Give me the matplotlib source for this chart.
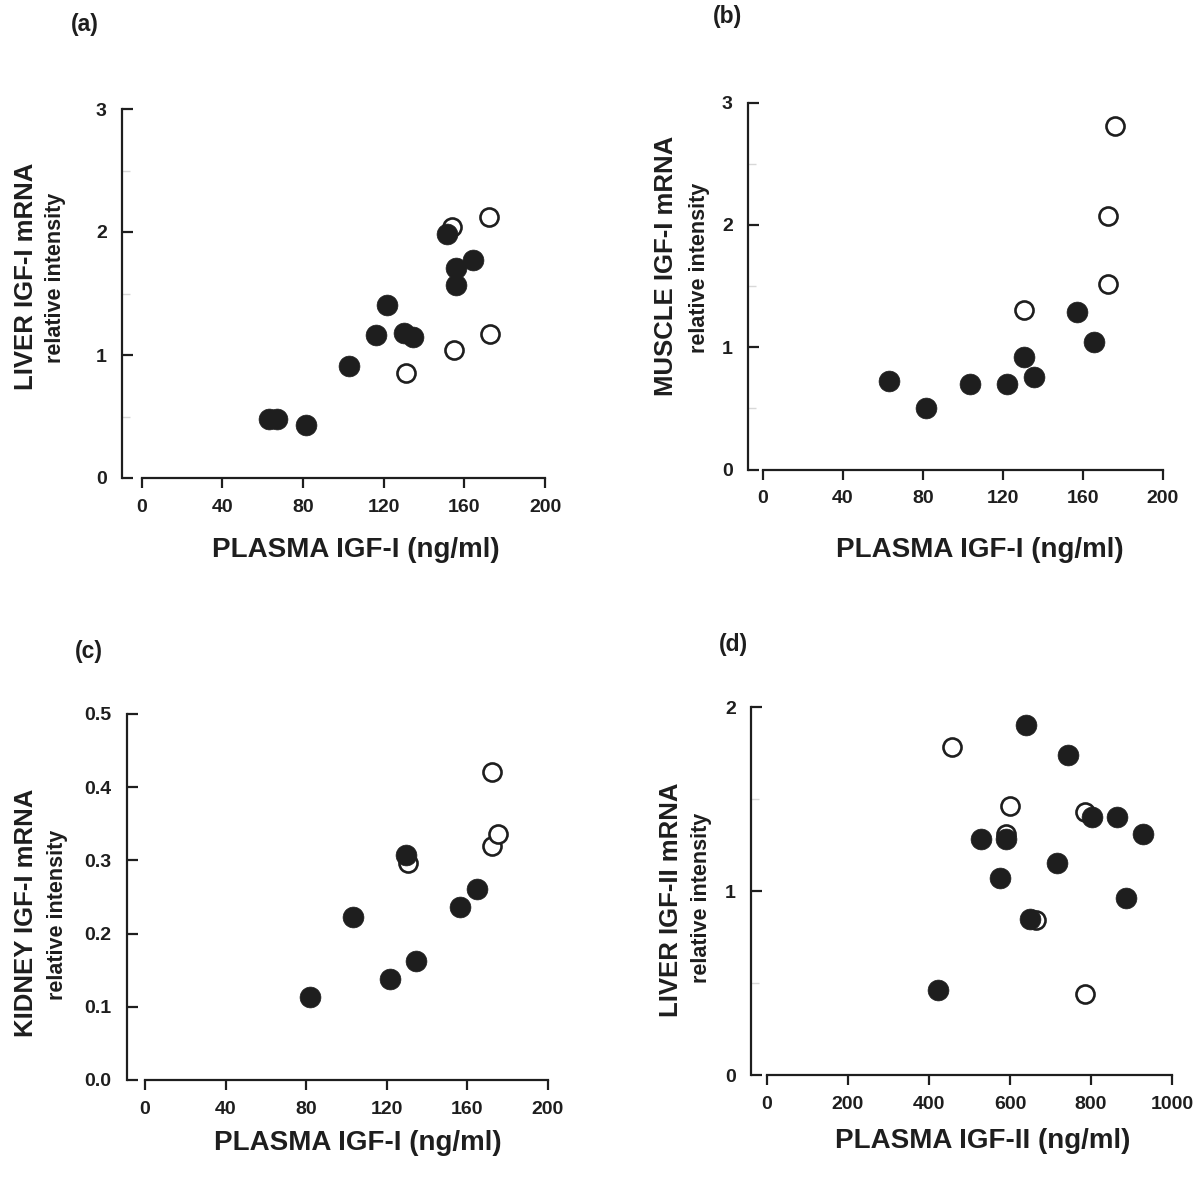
import matplotlib
matplotlib.use("Agg")
import matplotlib.pyplot as plt
from matplotlib.ticker import FixedLocator

plt.rcParams['font.family'] = ['Liberation Sans', 'DejaVu Sans']
plt.rcParams['font.weight'] = 'bold'

# ---------------- data ----------------
# (a) liver IGF-I mRNA vs plasma IGF-I
a_fill_x = [63, 67, 81.5, 103, 116, 121.5, 130, 134.5, 151.5, 156, 155.7, 164.5]
a_fill_y = [0.48, 0.48, 0.43, 0.91, 1.16, 1.41, 1.18, 1.15, 1.98, 1.71, 1.57, 1.77]
a_open_x = [154, 172, 172.5, 155, 131]
a_open_y = [2.04, 2.12, 1.17, 1.04, 0.85]

# (b) muscle IGF-I mRNA vs plasma IGF-I
b_fill_x = [63, 81.5, 103.5, 122, 130.5, 135.3, 157, 165.5]
b_fill_y = [0.72, 0.50, 0.70, 0.70, 0.92, 0.76, 1.29, 1.04]
b_open_x = [130.7, 172.5, 172.5, 175.8]
b_open_y = [1.30, 1.52, 2.07, 2.81]

# (c) kidney IGF-I mRNA vs plasma IGF-I
c_fill_x = [81.7, 103, 121.6, 134.7, 129.7, 156.2, 165]
c_fill_y = [0.114, 0.223, 0.138, 0.163, 0.307, 0.237, 0.261]
c_open_x = [130.6, 172, 172, 175.4]
c_open_y = [0.297, 0.421, 0.319, 0.336]

# (d) liver IGF-II mRNA vs plasma IGF-II
d_fill_x = [639, 743, 529, 590, 576, 716, 650, 802, 863, 928, 886, 423]
d_fill_y = [1.90, 1.74, 1.28, 1.28, 1.07, 1.15, 0.85, 1.40, 1.40, 1.31, 0.96, 0.46]
d_open_x = [456, 599, 785, 590, 664, 784]
d_open_y = [1.78, 1.46, 1.43, 1.31, 0.84, 0.44]

xticks_igf1 = [0, 40, 80, 120, 160, 200]
xticks_igf2 = [0, 200, 400, 600, 800, 1000]
yticks_a = [0, 1, 2, 3]
yticks_c = [0.0, 0.1, 0.2, 0.3, 0.4, 0.5]
yticks_d = [0, 1, 2]

xlabel_1 = "PLASMA IGF-I (ng/ml)"
xlabel_2 = "PLASMA IGF-II (ng/ml)"

# ---------------- figure ----------------
W, H = 1197, 1179
fig = plt.figure(figsize=(W / 100, H / 100), dpi=100)
INK = '#1e1e1e'


def panel(spine_px, x0_px, xend_px, y0_px, ytop_px, xmax, ymax,
          xticks, yticks, yminor, yfmt):
    left = spine_px / W
    width = (xend_px - spine_px) / W
    bottom = 1 - y0_px / H
    height = (y0_px - ytop_px) / H
    ax = fig.add_axes([left, bottom, width, height])
    xmin = -(x0_px - spine_px) * xmax / (xend_px - x0_px)
    ax.set_xlim(xmin, xmax)
    ax.set_ylim(0, ymax)
    ax.patch.set_alpha(0)
    for s in ('top', 'right'):
        ax.spines[s].set_visible(False)
    ax.spines['bottom'].set_bounds(0, xmax)
    ax.spines['left'].set_bounds(0, ymax)
    for s in ('bottom', 'left'):
        ax.spines[s].set_linewidth(1.6)
        ax.spines[s].set_color(INK)
    ax.set_xticks(xticks)
    ax.set_xticklabels([str(t) for t in xticks])
    ax.set_yticks(yticks)
    ax.set_yticklabels([yfmt.format(t) for t in yticks])
    if yminor:
        ax.yaxis.set_minor_locator(FixedLocator(yminor))
    ax.tick_params(axis='x', direction='out', length=7, width=1.6,
                   color=INK, labelsize=14, pad=8, labelcolor=INK)
    ax.tick_params(axis='y', which='major', direction='in', length=8, width=1.6,
                   color=INK, labelsize=14, pad=11, labelcolor=INK)
    ax.tick_params(axis='y', which='minor', direction='in', length=6, width=1.0,
                   color='#d8d8d8')
    for lab in ax.get_xticklabels() + ax.get_yticklabels():
        lab.set_fontweight('bold')
    return ax


def draw(ax, fx, fy, ox, oy):
    ax.plot(ox, oy, 'o', ms=13, mfc='white', mec=INK, mew=1.9,
            ls='none', clip_on=False, zorder=3)
    ax.plot(fx, fy, 'o', ms=15, mfc=INK, mec=INK, mew=0.5,
            ls='none', clip_on=False, zorder=4)


# (a)
ax_a = panel(122, 141.5, 545, 478, 109, 200, 3, xticks_igf1, yticks_a,
             [0.5, 1.5, 2.5], "{:d}")
draw(ax_a, a_fill_x, a_fill_y, a_open_x, a_open_y)

# (b)
ax_b = panel(748, 763, 1163, 469.5, 102.5, 200, 3, xticks_igf1, yticks_a,
             [0.5, 1.5, 2.5], "{:d}")
draw(ax_b, b_fill_x, b_fill_y, b_open_x, b_open_y)

# (c)
ax_c = panel(127, 145, 548, 1080, 714, 200, 0.5, xticks_igf1, yticks_c,
             None, "{:.1f}")
draw(ax_c, c_fill_x, c_fill_y, c_open_x, c_open_y)

# (d)
ax_d = panel(751, 767, 1172, 1075, 707, 1000, 2, xticks_igf2, yticks_d,
             [0.5, 1.5], "{:d}")
draw(ax_d, d_fill_x, d_fill_y, d_open_x, d_open_y)


def ftext(xp, yp, s, **kw):
    fig.text(xp / W, 1 - yp / H, s, ha='center', va='center',
             fontweight='bold', color=INK, **kw)


# panel letters
ftext(85, 25, "(a)", fontsize=16.5)
ftext(728, 17, "(b)", fontsize=16.5)
ftext(89, 652, "(c)", fontsize=16.5)
ftext(733, 644, "(d)", fontsize=16.5)

# y labels
ftext(26, 276, "LIVER IGF-I mRNA", fontsize=18.5, rotation=90)
ftext(56, 278, "relative intensity", fontsize=15.5, rotation=90)
ftext(666, 266, "MUSCLE IGF-I mRNA", fontsize=18.5, rotation=90)
ftext(700, 268, "relative intensity", fontsize=15.5, rotation=90)
ftext(26, 913, "KIDNEY IGF-I mRNA", fontsize=18.5, rotation=90)
ftext(57, 915, "relative intensity", fontsize=15.5, rotation=90)
ftext(671, 900, "LIVER IGF-II mRNA", fontsize=18.5, rotation=90)
ftext(702, 898, "relative intensity", fontsize=15.5, rotation=90)

# x labels
ftext(356, 550, xlabel_1, fontsize=20)
ftext(980, 550, xlabel_1, fontsize=20)
ftext(358, 1143, xlabel_1, fontsize=20)
ftext(983, 1141, xlabel_2, fontsize=20)

fig.savefig("out.png", dpi=100, facecolor='white')
